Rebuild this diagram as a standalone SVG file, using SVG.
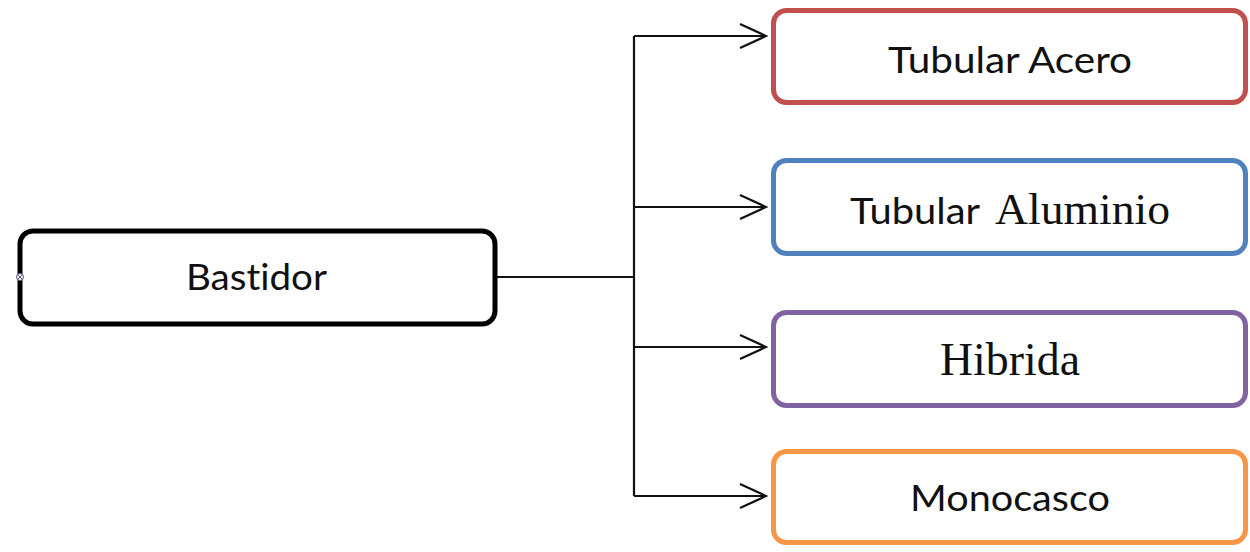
<svg xmlns="http://www.w3.org/2000/svg" width="1250" height="552" viewBox="0 0 1250 552">
  <style>
    .box { fill: #ffffff; stroke-width: 5; }
    .sans { font-family: "Lato", "Liberation Sans", sans-serif; font-size: 37px; fill: #111111; font-variant-ligatures: none; }
    .serif { font-family: "Liberation Serif", "Times New Roman", serif; fill: #111111; }
    .conn { fill: none; stroke: #111111; stroke-width: 2.2; }
  </style>
  <defs>
    <marker id="chevron" markerWidth="30" markerHeight="26" refX="28" refY="13" orient="auto" markerUnits="userSpaceOnUse">
      <path d="M2,1 L28,13 L2,25" fill="none" stroke="#111111" stroke-width="2.2"/>
    </marker>
  </defs>
  <rect width="1250" height="552" fill="#ffffff"/>

  <g id="connectors">
    <path class="conn" d="M497,277 H634"/>
    <path class="conn" d="M634,36 V496"/>
    <path class="conn" d="M634,36 H766" marker-end="url(#chevron)"/>
    <path class="conn" d="M634,207 H766" marker-end="url(#chevron)"/>
    <path class="conn" d="M634,347 H766" marker-end="url(#chevron)"/>
    <path class="conn" d="M634,496 H766" marker-end="url(#chevron)"/>
  </g>

  <g id="bastidor">
    <rect class="box" x="20" y="231" width="475" height="93" rx="13" stroke="#000000" stroke-width="6.5"/>
    <text class="sans" x="186" y="290" textLength="141" lengthAdjust="spacingAndGlyphs">Bastidor</text>
    <!-- connection handle -->
    <circle cx="20" cy="277" r="3.5" fill="#ffffff" stroke="#555577" stroke-width="1"/>
    <path d="M17.5,274.5 L22.5,279.5 M22.5,274.5 L17.5,279.5" stroke="#555577" stroke-width="1"/>
  </g>

  <g id="tubular-acero">
    <rect class="box" x="773.5" y="10.5" width="472" height="92" rx="13" stroke="#C0504D"/>
    <text class="sans" x="888" y="73" textLength="244" lengthAdjust="spacingAndGlyphs">Tubular Acero</text>
  </g>

  <g id="tubular-aluminio">
    <rect class="box" x="773.5" y="160.5" width="472" height="93" rx="13" stroke="#4F81BD"/>
    <text class="sans" x="850" y="224" textLength="130" lengthAdjust="spacingAndGlyphs">Tubular</text>
    <text class="serif" x="995" y="224" font-size="44" textLength="175" lengthAdjust="spacingAndGlyphs">Aluminio</text>
  </g>

  <g id="hibrida">
    <rect class="box" x="773.5" y="312.5" width="472" height="93" rx="13" stroke="#8064A2"/>
    <text class="serif" x="940" y="375" font-size="46" textLength="140" lengthAdjust="spacingAndGlyphs">Hibrida</text>
  </g>

  <g id="monocasco">
    <rect class="box" x="773.5" y="451.5" width="472" height="91" rx="13" stroke="#F79646"/>
    <text class="sans" x="910" y="511" textLength="200" lengthAdjust="spacingAndGlyphs">Monocasco</text>
  </g>
</svg>
